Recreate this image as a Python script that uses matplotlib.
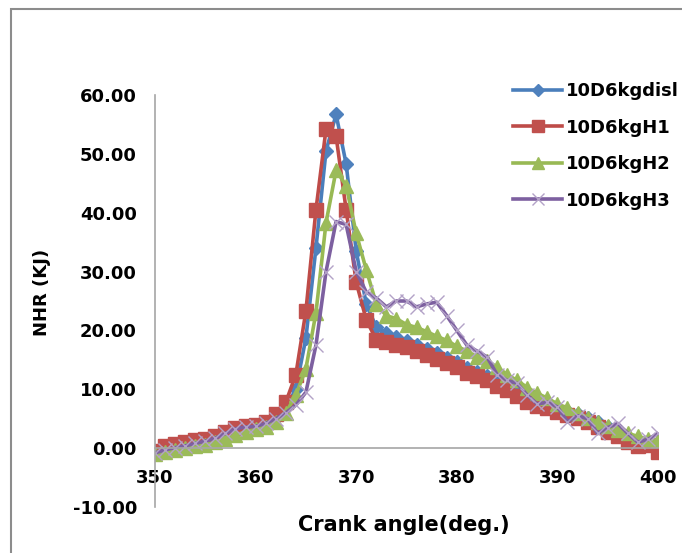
import matplotlib
matplotlib.use('Agg')
import matplotlib.pyplot as plt
from matplotlib.patches import Rectangle

# crank angle (deg.)
crank = list(range(350, 401))

# net heat release (KJ) for each blend
nhr_disl = [-0.6, 0.0, 0.4, 0.7, 1.0, 1.3, 1.7, 2.4, 3.1, 3.5, 3.7, 4.2, 5.3, 7.0, 10.0, 18.7,
            34.0, 50.5, 56.7, 48.3, 33.5, 24.5, 20.5, 19.5, 18.8, 18.2, 17.5, 16.8, 16.1, 15.4,
            14.6, 13.7, 13.0, 12.3, 11.4, 10.6, 9.6, 8.7, 8.0, 7.5, 6.9, 6.3, 5.8, 5.1, 4.4,
            3.6, 2.8, 1.9, 1.2, 1.1, 0.3]
nhr_h1 = [-0.5, 0.3, 0.7, 1.0, 1.3, 1.6, 2.0, 2.8, 3.5, 3.8, 4.0, 4.5, 5.8, 7.8, 12.5, 23.3,
          40.5, 54.2, 53.0, 40.5, 28.2, 21.8, 18.4, 18.0, 17.6, 17.1, 16.5, 15.8, 15.2, 14.5,
          13.8, 12.8, 12.2, 11.6, 10.5, 9.8, 8.8, 7.8, 7.2, 6.8, 6.2, 5.6, 5.1, 4.4, 3.6,
          2.8, 2.0, 1.0, 0.4, 0.5, -0.7]
nhr_h2 = [-1.0, -0.6, -0.3, 0.0, 0.3, 0.6, 1.0, 1.6, 2.2, 2.8, 3.2, 3.6, 4.5, 6.0, 9.0, 13.5,
          23.0, 38.3, 47.2, 44.6, 36.5, 30.3, 24.5, 22.5, 22.0, 21.0, 20.5, 19.8, 19.0, 18.3,
          17.3, 16.5, 15.5, 14.8, 13.8, 12.5, 11.5, 10.3, 9.3, 8.5, 7.5, 6.8, 6.0, 5.2, 4.5,
          3.8, 3.0, 2.5, 2.0, 1.5, 1.3]
nhr_h3 = [-0.8, -0.3, 0.1, 0.4, 0.8, 1.2, 1.7, 2.5, 3.3, 3.6, 3.7, 4.2, 5.0, 6.0, 7.3, 9.5,
          17.5, 30.0, 38.5, 38.0, 30.0, 26.5, 25.5, 24.0, 25.0, 25.0, 24.0, 24.5, 24.8, 22.5,
          20.0, 17.5, 16.5, 15.5, 12.5, 11.5, 11.0, 9.0, 7.5, 7.8, 7.0, 4.5, 5.5, 5.0, 2.5,
          3.5, 4.2, 2.5, 1.0, 1.5, 2.5]

labels = ['10D6kgdisl', '10D6kgH1', '10D6kgH2', '10D6kgH3']
yticks = [-10, 0, 10, 20, 30, 40, 50, 60]
xticks = [350, 360, 370, 380, 390, 400]

plt.rcParams['font.family'] = ['DejaVu Sans']
plt.rcParams['font.weight'] = 'bold'

fig = plt.figure(figsize=(6.82, 5.53), dpi=100)
# chart area frame, runs off the right and bottom edges
fig.patches.append(Rectangle((11 / 682, -0.05), 1.1, 1 - 9 / 553 + 0.05, transform=fig.transFigure,
                             fill=False, edgecolor='#8c8c8c', linewidth=1.5))

ax = fig.add_axes([155 / 682, 1 - 507 / 553, 503 / 682, 412 / 553])

ax.plot(crank, nhr_disl, color='#4A7EBB', lw=2.6, marker='D', ms=7.5, mfc='#4F81BD', mec='#4F81BD', label=labels[0])
ax.plot(crank, nhr_h1, color='#BE4B48', lw=2.6, marker='s', ms=10, mfc='#C0504D', mec='#C0504D', label=labels[1])
ax.plot(crank, nhr_h2, color='#98B954', lw=2.6, marker='^', ms=10, mfc='#9BBB59', mec='#9BBB59', label=labels[2])
ax.plot(crank, nhr_h3, color='#7D60A0', lw=2.6, marker='x', ms=10, mew=1.0, mec='#B3A2C7', label=labels[3])

ax.set_xlim(350, 400)
ax.set_ylim(-10, 60)
ax.set_xticks(xticks)
ax.set_yticks(yticks)
ax.set_yticklabels(['%.2f' % v for v in yticks])
ax.tick_params(axis='both', length=0, labelsize=13)
ax.tick_params(axis='x', pad=15)
ax.tick_params(axis='y', pad=13)

for s in ['top', 'right']:
    ax.spines[s].set_visible(False)
ax.spines['bottom'].set_position(('data', 0))
ax.spines['bottom'].set_color('#a6a6a6')
ax.spines['left'].set_color('#a6a6a6')
ax.spines['bottom'].set_linewidth(1.2)
ax.spines['left'].set_linewidth(1.2)

fig.text(404 / 682, 1 - 525 / 553, 'Crank angle(deg.)', ha='center', va='center', fontsize=15, fontweight='bold')
fig.text(42 / 682, 1 - 292 / 553, 'NHR (KJ)', ha='center', va='center', rotation=90, fontsize=13, fontweight='bold')

leg = ax.legend(loc='upper left', bbox_to_anchor=(497 / 682, 1 - 66 / 553), bbox_transform=fig.transFigure,
                frameon=False, fontsize=13, handlelength=2.7, handletextpad=0.2, labelspacing=1.02, markerscale=0.8)

fig.savefig('out.png', dpi=100)
